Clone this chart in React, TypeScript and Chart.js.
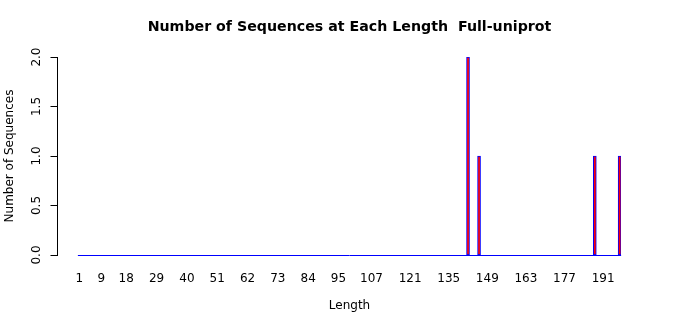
import React, { useEffect, useRef } from "react";
import { Chart, registerables } from "chart.js";

Chart.register(...registerables);

// ---- data ----
const maxLength = 197;
const lengthCategories: number[] = Array.from({ length: maxLength }, (_, i) => i + 1);
const observedLengths: number[] = [142, 146, 188, 197];
const observedCounts: number[] = [2, 1, 1, 1];
const xTickLabels: number[] = [1, 9, 18, 29, 40, 51, 62, 73, 84, 95, 107, 121, 135, 149, 163, 177, 191];
const yTickValues: number[] = [0, 0.5, 1, 1.5, 2];
const yTickLabels: string[] = ["0.0", "0.5", "1.0", "1.5", "2.0"];

const titleText = "Number of Sequences at Each Length  Full-uniprot";
const xTitle = "Length";
const yTitle = "Number of Sequences";

const FONT = "'DejaVu Sans', sans-serif";

const counts: number[] = lengthCategories.map((len) => {
  const idx = observedLengths.indexOf(len);
  return idx >= 0 ? observedCounts[idx] : 0;
});

const BAR_W = 3;

const rAxisPlugin = {
  id: "rAxis",
  beforeDatasetsDraw(chart: any) {
    const ctx = chart.ctx;
    const xs = chart.scales.x;
    const ys = chart.scales.y;
    const y0 = Math.floor(ys.getPixelForValue(0)) + 0.5;
    const xStart = xs.getPixelForValue(0) - BAR_W / 2;
    const xEnd = xs.getPixelForValue(lengthCategories.length - 1) + BAR_W / 2;
    ctx.save();
    ctx.strokeStyle = "#0000ff";
    ctx.lineWidth = 1;
    ctx.beginPath();
    ctx.moveTo(xStart, y0);
    ctx.lineTo(xEnd, y0);
    ctx.stroke();
    ctx.restore();
  },
  afterDraw(chart: any) {
    const ctx = chart.ctx;
    const ys = chart.scales.y;
    const area = chart.chartArea;
    const axisX = Math.round(area.left - 21) + 0.5;
    const yTop = Math.floor(ys.getPixelForValue(yTickValues[yTickValues.length - 1])) + 0.5;
    const yBot = Math.floor(ys.getPixelForValue(yTickValues[0])) + 0.5;
    ctx.save();
    ctx.strokeStyle = "#000";
    ctx.lineWidth = 1;
    ctx.beginPath();
    ctx.moveTo(axisX, yTop);
    ctx.lineTo(axisX, yBot);
    yTickValues.forEach((v) => {
      const py = Math.floor(ys.getPixelForValue(v)) + 0.5;
      ctx.moveTo(axisX + 0.5, py);
      ctx.lineTo(axisX - 7, py);
    });
    ctx.stroke();

    ctx.fillStyle = "#000";
    ctx.font = `12px ${FONT}`;
    ctx.textAlign = "center";
    ctx.textBaseline = "middle";
    yTickValues.forEach((v, i) => {
      const py = ys.getPixelForValue(v);
      ctx.save();
      ctx.translate(axisX - 20.5, py);
      ctx.rotate(-Math.PI / 2);
      ctx.fillText(yTickLabels[i], 0, 0);
      ctx.restore();
    });

    ctx.save();
    ctx.translate(9.6, (area.top + area.bottom) / 2);
    ctx.rotate(-Math.PI / 2);
    ctx.fillText(yTitle, 0, 0);
    ctx.restore();
    ctx.restore();
  },
};

export default function App() {
  const canvasRef = useRef<HTMLCanvasElement | null>(null);

  useEffect(() => {
    const canvas = canvasRef.current;
    if (!canvas) return;
    const chart = new Chart(canvas, {
      type: "bar",
      data: {
        labels: lengthCategories.map(String),
        datasets: [
          {
            data: counts,
            backgroundColor: "#ff0000",
            borderColor: "#0000ff",
            borderWidth: 1,
            borderSkipped: false,
            barThickness: BAR_W,
          } as any,
        ],
      },
      options: {
        responsive: false,
        animation: false,
        devicePixelRatio: 1,
        layout: { padding: { left: 78, right: 79, top: 0, bottom: 0 } },
        plugins: {
          legend: { display: false },
          tooltip: { enabled: false },
          title: {
            display: true,
            text: titleText,
            color: "#000",
            font: { family: FONT, size: 14.2, weight: "bold" },
            padding: { top: 18.9, bottom: 21.1 },
          },
        },
        scales: {
          x: {
            type: "category",
            offset: true,
            grid: { display: false, drawTicks: false },
            border: { display: false },
            ticks: {
              autoSkip: false,
              maxRotation: 0,
              minRotation: 0,
              padding: 17,
              color: "#000",
              font: { family: FONT, size: 12 },
              callback: (_v: any, idx: number) =>
                xTickLabels.includes(lengthCategories[idx]) ? String(lengthCategories[idx]) : "",
            },
            title: {
              display: true,
              text: xTitle,
              color: "#000",
              font: { family: FONT, size: 12 },
              padding: { top: 0, bottom: 1.5 },
            },
            afterFit: (scale: any) => {
              scale.height = 60;
            },
          },
          y: {
            display: false,
            min: 0,
            max: 2,
          },
        },
      },
      plugins: [rAxisPlugin],
    });
    return () => chart.destroy();
  }, []);

  return (
    <div style={{ position: "fixed", left: 0, top: 0, width: 700, height: 315, background: "#fff" }}>
      <canvas ref={canvasRef} width={700} height={315} style={{ display: "block" }} />
    </div>
  );
}
